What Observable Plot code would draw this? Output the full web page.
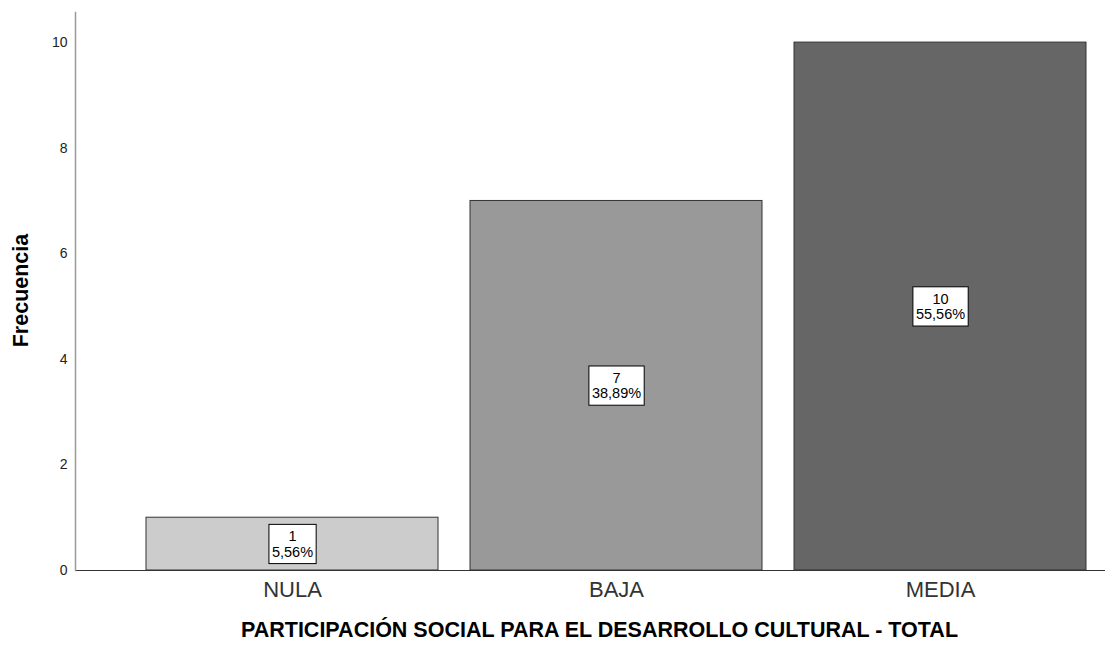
<!DOCTYPE html>
<html>
<head>
<meta charset="utf-8">
<script src="https://cdn.jsdelivr.net/npm/d3@7"></script>
<script src="https://cdn.jsdelivr.net/npm/@observablehq/plot@0.6"></script>
<style>
  html, body { margin: 0; padding: 0; background: #fff; }
  svg { font-family: "Liberation Sans", Arial, sans-serif; }
</style>
</head>
<body>
<script>
const categories = ["NULA", "BAJA", "MEDIA"];
const frequencies = [1, 7, 10];
const percentLabels = ["5,56%", "38,89%", "55,56%"];
const barColors = ["#cccccc", "#999999", "#666666"];
const yTicks = [0, 2, 4, 6, 8, 10];
const xTitle = "PARTICIPACIÓN SOCIAL PARA EL DESARROLLO CULTURAL - TOTAL";
const yTitle = "Frecuencia";

const data = categories.map((c, i) => ({cat: c, freq: frequencies[i], pct: percentLabels[i]}));

const chart = Plot.plot({
  width: 1105,
  height: 646,
  marginLeft: 75,
  marginRight: 0,
  marginTop: 12,
  marginBottom: 76,
  style: {fontFamily: '"Liberation Sans", Arial, sans-serif', background: "#fff"},
  x: {domain: categories, range: [146, 1086], paddingInner: 0.1, paddingOuter: 0},
  y: {domain: [0, 10.57]},
  color: {domain: categories, range: barColors},
  marks: [
    Plot.barY(data, {x: "cat", y: "freq", fill: "cat", stroke: "#333", strokeWidth: 1}),
    Plot.ruleY([0], {stroke: "#333", strokeWidth: 1.2}),
    Plot.frame({anchor: "left", stroke: "#999", strokeWidth: 1.5}),
    Plot.axisY({ticks: yTicks, tickSize: 0, tickPadding: 8, fontSize: 14, label: null, fill: "#222"}),
    Plot.axisX({tickSize: 0, tickPadding: 11, fontSize: 22, label: null, fill: "#333"}),
    Plot.text(data, {x: "cat", y: d => d.freq / 2, text: d => `${d.freq}\n${d.pct}`,
      fontSize: 14.5, lineHeight: 1.05, fill: "#000"}),
    Plot.text([xTitle], {frameAnchor: "bottom", dx: 9, dy: 66, fontSize: 21.5, fontWeight: "bold", fill: "#000"}),
    Plot.text([yTitle], {frameAnchor: "left", textAnchor: "middle", rotate: -90, dx: -54, dy: -1, fontSize: 21.5, fontWeight: "bold", fill: "#000"})
  ]
});
document.body.appendChild(chart);

// white boxes behind the value labels
const textGroups = chart.querySelectorAll('g[aria-label="text"]');
const labelGroup = textGroups[0];
labelGroup.querySelectorAll("text").forEach(t => {
  const b = t.getBBox();
  const padX = 3, padY = 4;
  const r = document.createElementNS("http://www.w3.org/2000/svg", "rect");
  r.setAttribute("x", b.x - padX);
  r.setAttribute("y", b.y - padY);
  r.setAttribute("width", b.width + 2 * padX);
  r.setAttribute("height", b.height + 2 * padY);
  r.setAttribute("fill", "#fff");
  r.setAttribute("stroke", "#000");
  r.setAttribute("stroke-width", "1");
  const tr = t.getAttribute("transform");
  if (tr) r.setAttribute("transform", tr);
  t.parentNode.insertBefore(r, t);
});
</script>
</body>
</html>
